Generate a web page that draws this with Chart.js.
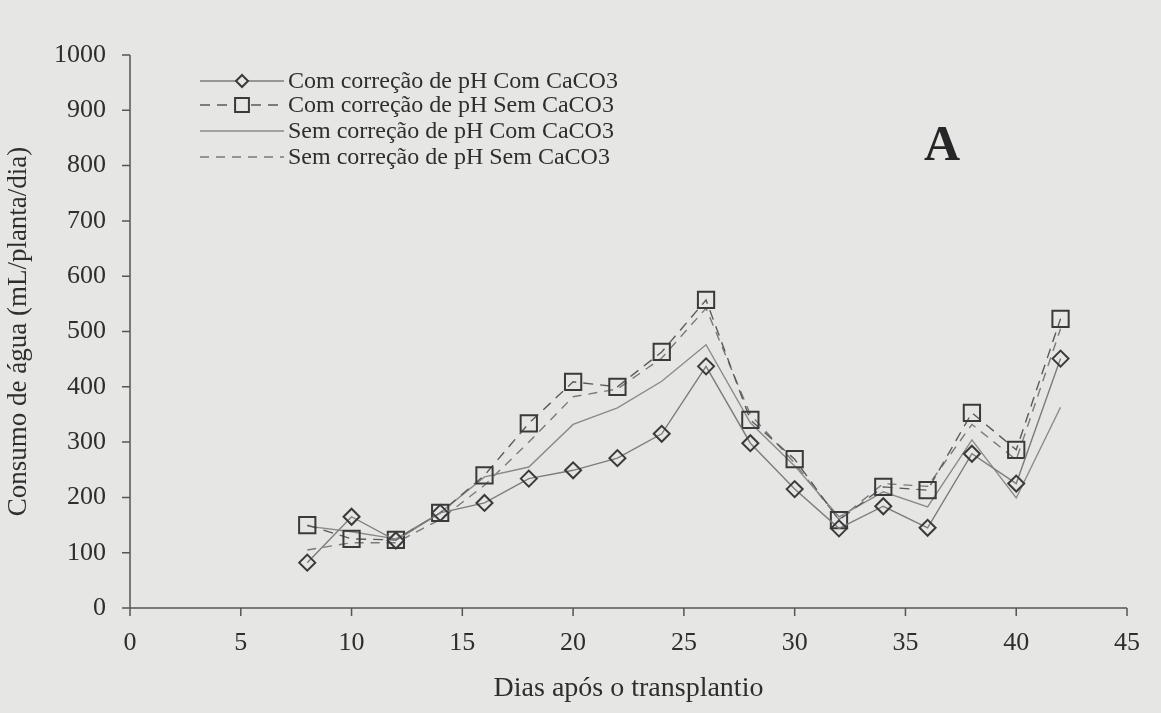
<!DOCTYPE html>
<html>
<head>
<meta charset="utf-8">
<script src="https://cdn.jsdelivr.net/npm/chart.js@4.4.1/dist/chart.umd.min.js"></script>
<style>
  html, body { margin: 0; padding: 0; background: #e6e6e4; }
  #wrap { width: 1161px; height: 713px; }
</style>
</head>
<body>
<div id="wrap"><canvas id="c" width="1161" height="713"></canvas></div>
<script>
// Dias após o transplantio
const dias = [8, 10, 12, 14, 16, 18, 20, 22, 24, 26, 28, 30, 32, 34, 36, 38, 40, 42];

// Consumo de água (mL/planta/dia)
const comCorrComCaCO3 = [82, 165, 122, 172, 190, 234, 249, 271, 315, 437, 298, 215, 144, 184, 145, 279, 225, 451];
const comCorrSemCaCO3 = [150, 125, 123, 172, 240, 334, 409, 400, 463, 557, 340, 269, 159, 219, 213, 353, 286, 523];
const semCorrComCaCO3 = [148, 138, 125, 172, 237, 255, 332, 362, 410, 476, 335, 257, 165, 210, 183, 304, 199, 363];
const semCorrSemCaCO3 = [105, 118, 118, 160, 222, 300, 382, 396, 452, 542, 350, 262, 160, 225, 220, 332, 268, 505];

const seriesNames = [
  'Com correção de pH Com CaCO3',
  'Com correção de pH Sem CaCO3',
  'Sem correção de pH Com CaCO3',
  'Sem correção de pH Sem CaCO3'
];

const xTicks = [0, 5, 10, 15, 20, 25, 30, 35, 40, 45];
const yTicks = [0, 100, 200, 300, 400, 500, 600, 700, 800, 900, 1000];

const FONT = '"Liberation Serif", "Times New Roman", serif';
const INK = '#2e2e2e';
const PAPER = '#e6e6e4';

function pts(vals) { return dias.map((d, i) => ({ x: d, y: vals[i] })); }

const datasets = [
  { label: seriesNames[0], data: pts(comCorrComCaCO3), borderColor: '#7c7c7c', borderWidth: 1.4,
    pointStyle: 'rectRot', pointRadius: 8, pointBorderColor: '#3a3a3a', pointBorderWidth: 2,
    pointBackgroundColor: 'rgba(0,0,0,0)' },
  { label: seriesNames[1], data: pts(comCorrSemCaCO3), borderColor: '#5a5a5a', borderWidth: 1.4,
    borderDash: [10, 7], pointStyle: 'rect', pointRadius: 11.5, pointBorderColor: '#3a3a3a',
    pointBorderWidth: 2, pointBackgroundColor: 'rgba(0,0,0,0)' },
  { label: seriesNames[2], data: pts(semCorrComCaCO3), borderColor: '#8a8a8a', borderWidth: 1.4,
    pointRadius: 0 },
  { label: seriesNames[3], data: pts(semCorrSemCaCO3), borderColor: '#7a7a7a', borderWidth: 1.4,
    borderDash: [9, 7], pointRadius: 0 }
];

// Axis lines and outward tick marks
const tickMarks = {
  id: 'tickMarks',
  afterDraw(chart) {
    const { ctx, scales: { x, y } } = chart;
    const x0 = x.getPixelForValue(0), y0 = y.getPixelForValue(0);
    ctx.save();
    ctx.strokeStyle = '#555';
    ctx.lineWidth = 1.5;
    ctx.beginPath();
    ctx.moveTo(x0, y.getPixelForValue(1000));
    ctx.lineTo(x0, y0);
    ctx.lineTo(x.getPixelForValue(45), y0);
    xTicks.forEach(v => {
      const px = x.getPixelForValue(v);
      ctx.moveTo(px, y0);
      ctx.lineTo(px, y0 + 8);
    });
    yTicks.forEach(v => {
      const py = y.getPixelForValue(v);
      ctx.moveTo(x0, py);
      ctx.lineTo(x0 - 8, py);
    });
    ctx.stroke();
    ctx.restore();
  }
};

// Legend with line + marker samples, and panel letter
const legendAndLetter = {
  id: 'legendAndLetter',
  afterDraw(chart) {
    const { ctx } = chart;
    const x0 = 200, x1 = 284, tx = 288;
    const rows = [81, 105, 131, 157];
    ctx.save();
    ctx.font = '24px ' + FONT;
    ctx.textBaseline = 'middle';
    ctx.textAlign = 'left';
    datasets.forEach((ds, i) => {
      const yy = rows[i];
      ctx.strokeStyle = ds.borderColor;
      ctx.lineWidth = ds.borderWidth;
      ctx.setLineDash(ds.borderDash || []);
      ctx.beginPath();
      ctx.moveTo(x0, yy);
      ctx.lineTo(x1, yy);
      ctx.stroke();
      ctx.setLineDash([]);
      if (ds.pointRadius > 0) {
        ctx.fillStyle = PAPER;
        ctx.strokeStyle = ds.pointBorderColor;
        ctx.lineWidth = ds.pointBorderWidth;
        const r = ds.pointStyle === 'rect' ? ds.pointRadius * 0.85 : ds.pointRadius * 0.75;
        Chart.helpers.drawPoint(ctx, { pointStyle: ds.pointStyle, radius: r, rotation: 0,
          borderWidth: ds.pointBorderWidth }, 242, yy);
      }
      ctx.fillStyle = INK;
      ctx.fillText(ds.label, tx, yy + 1);
    });
    ctx.font = 'bold 50px ' + FONT;
    ctx.textBaseline = 'alphabetic';
    ctx.fillStyle = '#262626';
    ctx.fillText('A', 924, 160);
    ctx.restore();
  }
};

new Chart(document.getElementById('c'), {
  type: 'line',
  data: { datasets },
  options: {
    responsive: false,
    animation: false,
    layout: { padding: { top: 55, right: 34, left: 0, bottom: 0 } },
    plugins: { legend: { display: false }, tooltip: { enabled: false } },
    scales: {
      x: {
        type: 'linear', min: 0, max: 45,
        afterBuildTicks(s) { s.ticks = xTicks.map(v => ({ value: v })); },
        afterFit(s) { s.height = 105; },
        grid: { display: false, drawTicks: false },
        border: { display: false },
        ticks: { color: INK, padding: 20, font: { family: FONT, size: 26 }, maxRotation: 0,
                 callback: v => String(v) },
        title: { display: true, text: 'Dias após o transplantio', color: INK,
                 font: { family: FONT, size: 28 }, padding: { top: 0, bottom: 8 } }
      },
      y: {
        type: 'linear', min: 0, max: 1000,
        afterBuildTicks(s) { s.ticks = yTicks.map(v => ({ value: v })); },
        afterFit(s) { s.width = 130; },
        grid: { display: false, drawTicks: false },
        border: { display: false },
        ticks: { color: INK, padding: 24, font: { family: FONT, size: 26 },
                 callback: v => String(v) },
        title: { display: true, text: 'Consumo de água (mL/planta/dia)', color: INK,
                 font: { family: FONT, size: 27 }, padding: { top: 3, bottom: 0 } }
      }
    }
  },
  plugins: [tickMarks, legendAndLetter]
});
</script>
</body>
</html>
